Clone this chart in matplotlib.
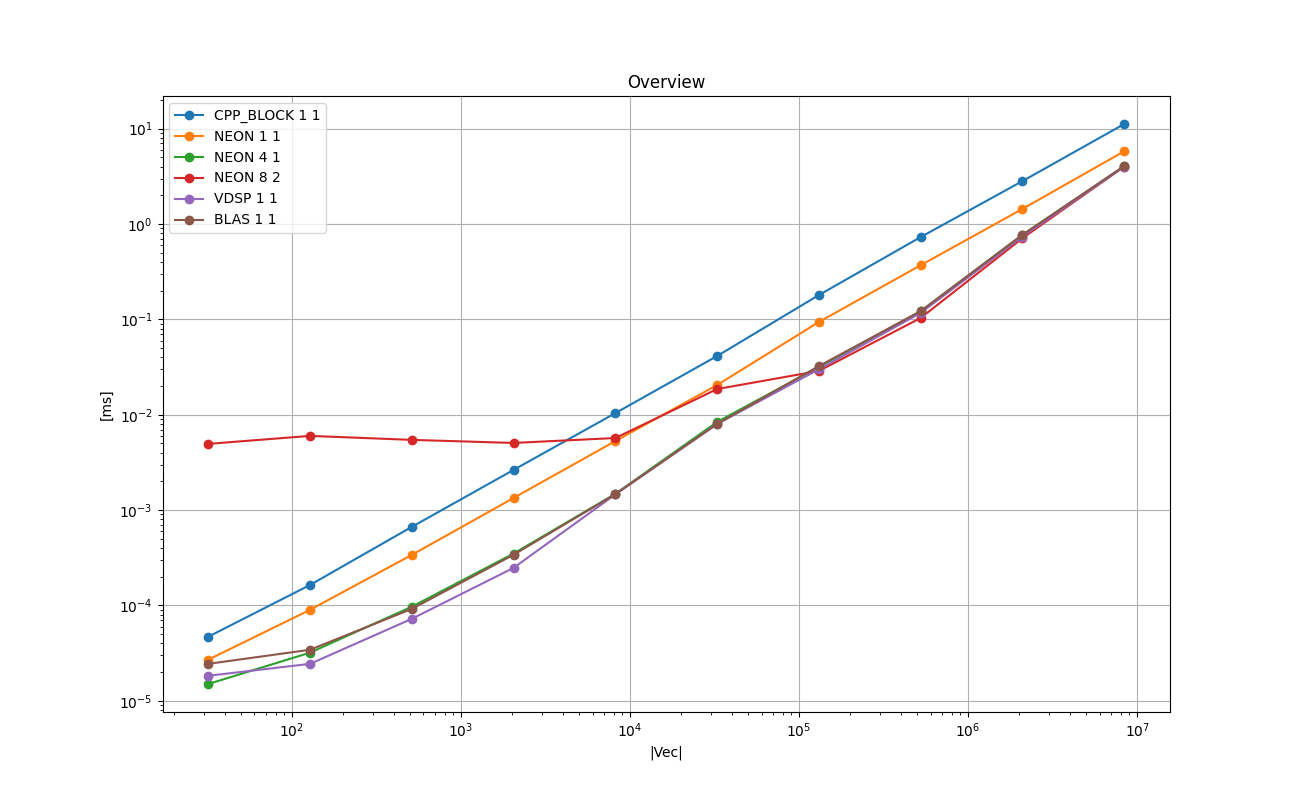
import numpy as np
import matplotlib
matplotlib.use("Agg")
import matplotlib.pyplot as plt

# tamaños de vector (32 * 4^k)
vec_sizes = [32, 128, 512, 2048, 8192, 32768, 131072, 524288, 2097152, 8388608]

cpp_block_1_1 = [4.7e-5, 1.64e-4, 6.67e-4, 2.64e-3, 1.04e-2, 0.0413, 0.180, 0.73, 2.82, 11.2]
neon_1_1 = [2.7e-5, 9.0e-5, 3.39e-4, 1.34e-3, 5.3e-3, 0.0205, 0.094, 0.37, 1.44, 5.8]
neon_4_1 = [1.5e-5, 3.2e-5, 9.7e-5, 3.5e-4, 1.48e-3, 8.4e-3, 0.0317, 0.122, 0.77, 4.05]
neon_8_2 = [4.95e-3, 6.0e-3, 5.45e-3, 5.06e-3, 5.7e-3, 0.0186, 0.0288, 0.1035, 0.71, 4.0]
vdsp_1_1 = [1.83e-5, 2.44e-5, 7.24e-5, 2.48e-4, 1.46e-3, 8.0e-3, 0.030, 0.117, 0.74, 4.0]
blas_1_1 = [2.44e-5, 3.43e-5, 9.2e-5, 3.4e-4, 1.47e-3, 8.0e-3, 0.0324, 0.122, 0.77, 4.05]

series = [
    ("CPP_BLOCK 1 1", cpp_block_1_1),
    ("NEON 1 1", neon_1_1),
    ("NEON 4 1", neon_4_1),
    ("NEON 8 2", neon_8_2),
    ("VDSP 1 1", vdsp_1_1),
    ("BLAS 1 1", blas_1_1),
]

plt.figure(figsize=(13, 8), dpi=100)
for nombre, valores in series:
    plt.plot(vec_sizes, valores, 'o-', label=nombre)
plt.xscale('log')
plt.yscale('log')
plt.title("Overview")
plt.xlabel("|Vec|")
plt.ylabel("[ms]")
plt.grid(True)
plt.legend(loc='upper left')
plt.savefig("out.png")
